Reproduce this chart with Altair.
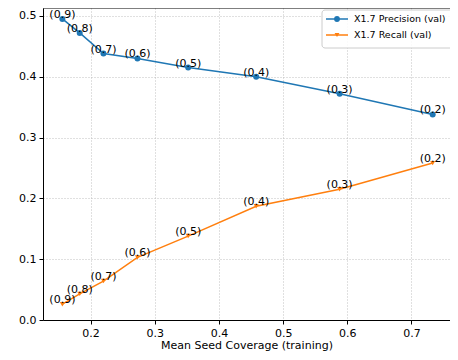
import altair as alt
import pandas as pd

coverage = [0.156, 0.183, 0.220, 0.273, 0.352, 0.458, 0.588, 0.733]
thr_labels = ["(0.9)", "(0.8)", "(0.7)", "(0.6)", "(0.5)", "(0.4)", "(0.3)", "(0.2)"]
precision = [0.495, 0.472, 0.438, 0.430, 0.415, 0.400, 0.372, 0.338]
recall = [0.026, 0.043, 0.064, 0.103, 0.138, 0.187, 0.215, 0.258]
series_names = ["X1.7 Precision (val)", "X1.7 Recall (val)"]
colors = ["#1f77b4", "#ff7f0e"]
shapes = ["circle", "triangle-down"]
x_ticks = [0.2, 0.3, 0.4, 0.5, 0.6, 0.7]
y_ticks = [0.0, 0.1, 0.2, 0.3, 0.4, 0.5]

rows = []
for i, c in enumerate(coverage):
    rows.append({"x": c, "y": precision[i], "label": thr_labels[i], "series": series_names[0]})
for i, c in enumerate(coverage):
    rows.append({"x": c, "y": recall[i], "label": thr_labels[i], "series": series_names[1]})
df = pd.DataFrame(rows)
one = alt.Data(values=[{"k": 1}])

W, H = 407, 312
xs = alt.Scale(domain=[0.1258, 0.760], nice=False, zero=False)
ys = alt.Scale(domain=[0.0, 0.513], nice=False, zero=False)
cs = alt.Scale(domain=series_names, range=colors)

X = alt.X("x:Q", scale=xs, axis=alt.Axis(values=x_ticks, format=".1f", title="Mean Seed Coverage (training)"))
Y = alt.Y("y:Q", scale=ys, axis=alt.Axis(values=y_ticks, format=".1f", title=None))

base = alt.Chart(df)
lines = base.mark_line(strokeWidth=1.5).encode(
    x=X, y=Y, color=alt.Color("series:N", scale=cs, legend=None), detail="series:N"
)
points = base.mark_point(filled=True, opacity=1).encode(
    x=X, y=Y,
    color=alt.Color("series:N", scale=cs, legend=None),
    shape=alt.Shape("series:N", scale=alt.Scale(domain=series_names, range=shapes), legend=None),
    size=alt.Size("series:N", scale=alt.Scale(domain=series_names, range=[36, 26]), legend=None),
)
labels = base.mark_text(baseline="bottom", dy=1, fontSize=11, color="black", font="DejaVu Sans").encode(
    x=X, y=Y, text="label:N"
)

top_spine = alt.Chart(one).mark_rule(color="black", strokeWidth=1).encode(
    x=alt.value(0), x2=alt.value(W), y=alt.value(0)
)

legend_box = alt.Chart(one).mark_rect(
    fill="white", fillOpacity=0.85, stroke="#cccccc", strokeWidth=1, cornerRadius=3
).encode(x=alt.value(279), x2=alt.value(W + 6), y=alt.value(2), y2=alt.value(40))

legend_layers = [legend_box]
for k, name in enumerate(series_names):
    yy = 11 + 16 * k
    legend_layers.append(alt.Chart(one).mark_rule(color=colors[k], strokeWidth=1.5).encode(
        x=alt.value(283), x2=alt.value(305), y=alt.value(yy)))
    legend_layers.append(alt.Chart(one).mark_point(
        filled=True, opacity=1, color=colors[k], shape=shapes[k], size=[34, 24][k]
    ).encode(x=alt.value(294), y=alt.value(yy)))
    legend_layers.append(alt.Chart(one).mark_text(
        text=name, align="left", baseline="middle", fontSize=9.5, color="black", font="DejaVu Sans"
    ).encode(x=alt.value(311), y=alt.value(yy)))

chart = alt.layer(lines, points, labels, top_spine, *legend_layers).properties(
    width=W, height=H,
    autosize=alt.AutoSizeParams(type="none"),
    padding={"left": 35, "top": 0, "right": 0, "bottom": 32},
).configure_view(stroke=None).configure_axis(
    domainColor="black", domainWidth=1, tickColor="black", tickSize=4,
    labelColor="black", labelFont="DejaVu Sans", labelFontSize=11, labelPadding=3,
    titleFont="DejaVu Sans", titleFontSize=11, titleFontWeight="normal", titleColor="black",
    titlePadding=1,
    grid=True, gridColor="#b0b0b0", gridDash=[1, 2], gridWidth=0.8,
)

chart.save("out.html", embed_options={"renderer": "svg", "actions": False})
